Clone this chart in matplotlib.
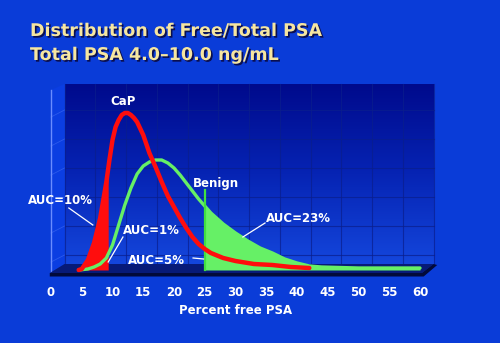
import numpy as np
import matplotlib

matplotlib.use("Agg", force=True)
import matplotlib.pyplot as plt
import matplotlib.patheffects as pe
from matplotlib.colors import LinearSegmentedColormap
from matplotlib.patches import Polygon

# percent free PSA (x) and relative density (y)
cap_x = [4.5, 5, 6, 7, 8, 9, 9.5, 10, 10.5, 11, 11.5, 12, 12.5, 13, 13.5, 14,
         15, 16, 17, 18, 19, 20, 21, 22, 23, 24, 25, 26, 28, 30, 33, 36, 39, 42]
cap_y = [0, 1, 10, 27, 52, 88, 110, 130, 143, 150, 155, 157, 157, 155, 152, 148,
         135, 117, 103, 88, 74, 63, 52, 42, 33, 26, 21, 17, 12, 9, 6, 5, 3, 2]
benign_x = [4.5, 6, 7, 8, 9, 10, 11, 12, 13, 14, 15, 16, 17, 18, 19, 20, 21,
            22, 23, 24, 25, 26, 28, 30, 32, 34, 36, 38, 40, 42, 44, 50, 55, 60]
benign_y = [0, 1, 3, 6, 12, 25, 45, 65, 82, 96, 104, 108, 110, 110, 107, 102, 95,
            87, 79, 71, 64, 57, 46, 37, 29, 22, 17, 11, 7, 4, 3, 2, 2, 2]
cap_cut = 9.3      # red shaded tail: CaP below this cutoff
benign_cut = 25.0  # green shaded tail: benign above this cutoff
x_ticks = list(range(0, 61, 5))

BG = "#0a3cd8"
RED = "#ff0d0d"
GREEN = "#66f066"
TITLE = "#f6e6a0"

fig = plt.figure(figsize=(5.0, 3.43), dpi=100)
fig.patch.set_facecolor(BG)
ax = fig.add_axes([51 / 500, 73 / 343, 369 / 500, 180 / 343])
ax.set_xlim(0, 60)
ax.set_ylim(0, 180)
ax.set_facecolor("none")
for sp in ax.spines.values():
    sp.set_visible(False)
ax.set_yticks([])

# 3d box: back wall, left wall, floor
dx, dy = 2.2, 6
wall_cmap = LinearSegmentedColormap.from_list("wall", ["#000a8c", "#0624b4", "#1446dc"])
grad = np.linspace(0, 1, 256).reshape(-1, 1)
ax.imshow(grad, cmap=wall_cmap, aspect="auto", extent=[dx, 60 + dx, dy, 186],
          origin="upper", zorder=0, clip_on=False)
ax.add_patch(Polygon([(0, -3), (0, 180), (dx, 186), (dx, dy)], closed=True,
                     facecolor="#0b3ee2", edgecolor="none", zorder=0, clip_on=False))
for gx in np.arange(dx, 60 + dx + 0.1, 5):
    ax.plot([gx, gx], [dy, 186], color="#0a1e8c", lw=0.8, alpha=0.7, zorder=1, clip_on=False)
for gy in [15, 44, 73, 102, 131, 160]:
    ax.plot([dx, 60 + dx], [gy, gy], color="#0a1e8c", lw=0.8, alpha=0.7, zorder=1, clip_on=False)
    ax.plot([0, dx], [gy - 7, gy], color="#3a66f0", lw=0.6, alpha=0.7, zorder=1, clip_on=False)
ax.plot([0, 0], [-3, 180], color="#6a8cff", lw=1.0, zorder=1, clip_on=False)
ax.add_patch(Polygon([(-0.2, -3), (60.3, -3), (60 + dx, dy), (dx, dy)], closed=True,
                     facecolor="#071a78", edgecolor="none", zorder=1, clip_on=False))
ax.add_patch(Polygon([(-0.2, -3), (60.3, -3), (60 + dx, dy), (60 + dx + 0.6, dy - 1),
                      (60.6, -6.5), (-0.2, -6.5)], closed=True,
                     facecolor="#020a3a", edgecolor="none", zorder=1, clip_on=False))

# shaded tails
cx = np.array(cap_x, dtype=float)
cy = np.array(cap_y, dtype=float)
bx = np.array(benign_x, dtype=float)
by = np.array(benign_y, dtype=float)
m = cx <= cap_cut
fx = np.append(cx[m], cap_cut)
fy = np.append(cy[m], np.interp(cap_cut, cx, cy))
ax.fill_between(fx, 0, fy, color=RED, lw=0, zorder=2, clip_on=False)
m = bx >= benign_cut
ax.fill_between(bx[m], 0, by[m], color=GREEN, lw=0, zorder=2, clip_on=False)
ax.plot([benign_cut, benign_cut], [0, 80], color="#40e040", lw=1.6, zorder=4, clip_on=False)

# curves
ax.plot(bx, by, color=GREEN, lw=2.4, zorder=3, solid_capstyle="round",
        solid_joinstyle="round", clip_on=False)
ax.plot(cx, cy, color=RED, lw=3.2, zorder=4, solid_capstyle="round",
        solid_joinstyle="round", clip_on=False)

lab = dict(color="white", fontsize=8.5, fontweight="bold", ha="center", va="center", zorder=6)
ax.text(11.7, 169, "CaP", **lab)
ax.text(26.8, 87, "Benign", **lab)
ax.text(1.5, 70, "AUC=10%", **lab)
ax.text(16.4, 39, "AUC=1%", **lab)
ax.text(17.2, 10, "AUC=5%", **lab)
ax.text(40.2, 51, "AUC=23%", **lab)
leader = dict(color="white", lw=0.9, zorder=5, clip_on=False)
ax.plot([2.9, 6.8], [62, 45], **leader)
ax.plot([11.7, 9.3], [33, 8], **leader)
ax.plot([23.1, 24.8], [12, 11], **leader)
ax.plot([34.8, 31.2], [47, 33], **leader)

ax.set_xticks(x_ticks)
ax.tick_params(axis="x", length=0, pad=11.5, labelsize=8.5, labelcolor="white")
for t in ax.get_xticklabels():
    t.set_fontweight("bold")
ax.set_xlabel("Percent free PSA", color="white", fontsize=8.5, fontweight="bold", labelpad=3.5)

shadow = [pe.SimplePatchShadow(offset=(1.2, -1.2), shadow_rgbFace="#0a0a40", alpha=0.9), pe.Normal()]
fig.text(30 / 500, 1 - 36 / 343, "Distribution of Free/Total PSA", color=TITLE,
         fontsize=12.6, fontweight="bold", ha="left", va="baseline", path_effects=shadow)
fig.text(30 / 500, 1 - 60 / 343, "Total PSA 4.0\u201310.0 ng/mL", color=TITLE,
         fontsize=12.6, fontweight="bold", ha="left", va="baseline", path_effects=shadow)

fig.savefig("out.png", dpi=100, facecolor=fig.get_facecolor())
